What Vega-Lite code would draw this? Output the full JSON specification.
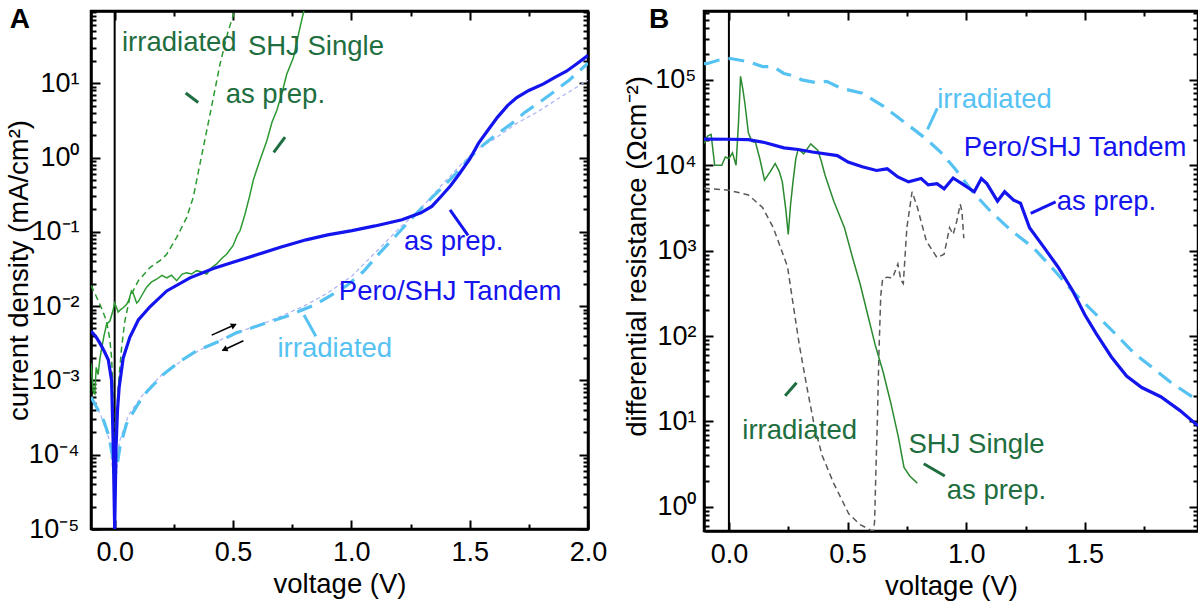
{
  "$schema": "https://vega.github.io/schema/vega-lite/v6.json",
  "background": "white",
  "padding": {"left": 3, "top": 4, "right": 0, "bottom": 0},
  "autosize": {"type": "pad"},
  "spacing": 116,
  "bounds": "flush",
  "config": {
    "view": {"stroke": "black", "strokeWidth": 2.5},
    "font": "Liberation Sans",
    "text": {"font": "Liberation Sans"},
    "axis": {"zindex": 1}
  },
  "datasets": {
    "zero": [{"V": 0, "J": 1e-9}, {"V": 0, "J": 1e9}],
    "a_tp": [
      {"V": -0.1, "J": 0.0046}, {"V": -0.08, "J": 0.0039}, {"V": -0.063, "J": 0.0032}, {"V": -0.045, "J": 0.0025},
      {"V": -0.027, "J": 0.0019}, {"V": -0.013, "J": 0.001}, {"V": -0.006, "J": 0.00013}, {"V": 0, "J": 0.00001},
      {"V": 0.006, "J": 0.00013}, {"V": 0.012, "J": 0.0004}, {"V": 0.019, "J": 0.00081}, {"V": 0.036, "J": 0.002},
      {"V": 0.064, "J": 0.0038}, {"V": 0.1, "J": 0.0065}, {"V": 0.149, "J": 0.0098}, {"V": 0.22, "J": 0.016},
      {"V": 0.318, "J": 0.024}, {"V": 0.417, "J": 0.032}, {"V": 0.5, "J": 0.039}, {"V": 0.6, "J": 0.049},
      {"V": 0.7, "J": 0.062}, {"V": 0.809, "J": 0.078}, {"V": 0.9, "J": 0.091}, {"V": 1.003, "J": 0.104},
      {"V": 1.1, "J": 0.12}, {"V": 1.214, "J": 0.145}, {"V": 1.294, "J": 0.18}, {"V": 1.34, "J": 0.22},
      {"V": 1.375, "J": 0.29}, {"V": 1.42, "J": 0.42}, {"V": 1.456, "J": 0.6}, {"V": 1.5, "J": 0.95},
      {"V": 1.537, "J": 1.55}, {"V": 1.58, "J": 2.4}, {"V": 1.618, "J": 3.5}, {"V": 1.66, "J": 5.0},
      {"V": 1.699, "J": 6.4}, {"V": 1.75, "J": 8.0}, {"V": 1.812, "J": 9.8}, {"V": 1.86, "J": 12},
      {"V": 1.909, "J": 14.5}, {"V": 1.95, "J": 18}, {"V": 2.0, "J": 23.7}
    ],
    "a_ti": [
      {"V": -0.1, "J": 0.0006}, {"V": -0.07, "J": 0.0004}, {"V": -0.045, "J": 0.00028}, {"V": -0.025, "J": 0.00018},
      {"V": -0.01, "J": 0.0001}, {"V": 0, "J": 0.00005}, {"V": 0.01, "J": 0.00007}, {"V": 0.022, "J": 0.000126},
      {"V": 0.05, "J": 0.00026}, {"V": 0.093, "J": 0.00045}, {"V": 0.135, "J": 0.0007}, {"V": 0.205, "J": 0.0012},
      {"V": 0.276, "J": 0.0018}, {"V": 0.346, "J": 0.0025}, {"V": 0.445, "J": 0.0034}, {"V": 0.516, "J": 0.0044},
      {"V": 0.58, "J": 0.0051}, {"V": 0.643, "J": 0.006}, {"V": 0.727, "J": 0.0073}, {"V": 0.84, "J": 0.0102},
      {"V": 0.91, "J": 0.0137}, {"V": 0.98, "J": 0.0188}, {"V": 1.05, "J": 0.029}, {"V": 1.12, "J": 0.052},
      {"V": 1.19, "J": 0.09}, {"V": 1.262, "J": 0.16}, {"V": 1.32, "J": 0.25}, {"V": 1.375, "J": 0.37},
      {"V": 1.44, "J": 0.6}, {"V": 1.505, "J": 1.03}, {"V": 1.56, "J": 1.5}, {"V": 1.618, "J": 2.1},
      {"V": 1.68, "J": 2.9}, {"V": 1.731, "J": 4.0}, {"V": 1.79, "J": 5.4}, {"V": 1.845, "J": 7.2},
      {"V": 1.92, "J": 11}, {"V": 2.0, "J": 18.6}
    ],
    "a_tr": [
      {"V": -0.1, "J": 0.0006}, {"V": -0.06, "J": 0.00035}, {"V": -0.02, "J": 0.00015}, {"V": 0, "J": 0.00003},
      {"V": 0.02, "J": 0.00015}, {"V": 0.06, "J": 0.00035}, {"V": 0.12, "J": 0.00065}, {"V": 0.2, "J": 0.0012},
      {"V": 0.3, "J": 0.002}, {"V": 0.4, "J": 0.003}, {"V": 0.5, "J": 0.0042}, {"V": 0.65, "J": 0.0062},
      {"V": 0.8, "J": 0.01}, {"V": 0.9, "J": 0.015}, {"V": 1.0, "J": 0.025}, {"V": 1.13, "J": 0.065},
      {"V": 1.2, "J": 0.11}, {"V": 1.29, "J": 0.2}, {"V": 1.38, "J": 0.42}, {"V": 1.456, "J": 0.76},
      {"V": 1.53, "J": 1.3}, {"V": 1.6, "J": 1.74}, {"V": 1.7, "J": 2.9}, {"V": 1.78, "J": 4}, {"V": 1.9, "J": 7},
      {"V": 2.0, "J": 11}
    ],
    "a_sp": [
      {"V": -0.1, "J": 0.0017}, {"V": -0.09, "J": 0.0007}, {"V": -0.084, "J": 0.00066}, {"V": -0.078, "J": 0.0015},
      {"V": -0.07, "J": 0.0012}, {"V": -0.062, "J": 0.002}, {"V": -0.055, "J": 0.0027}, {"V": -0.045, "J": 0.004},
      {"V": -0.034, "J": 0.0057}, {"V": -0.02, "J": 0.0063}, {"V": -0.006, "J": 0.009}, {"V": 0.0, "J": 0.011},
      {"V": 0.008, "J": 0.0095}, {"V": 0.015, "J": 0.0083}, {"V": 0.025, "J": 0.009}, {"V": 0.036, "J": 0.0095},
      {"V": 0.05, "J": 0.0105}, {"V": 0.06, "J": 0.012}, {"V": 0.071, "J": 0.016}, {"V": 0.078, "J": 0.015},
      {"V": 0.093, "J": 0.011}, {"V": 0.1, "J": 0.0115}, {"V": 0.115, "J": 0.014}, {"V": 0.135, "J": 0.018},
      {"V": 0.155, "J": 0.021}, {"V": 0.177, "J": 0.023}, {"V": 0.2, "J": 0.026}, {"V": 0.22, "J": 0.024},
      {"V": 0.24, "J": 0.026}, {"V": 0.262, "J": 0.022}, {"V": 0.285, "J": 0.027}, {"V": 0.304, "J": 0.028},
      {"V": 0.325, "J": 0.027}, {"V": 0.346, "J": 0.03}, {"V": 0.365, "J": 0.029}, {"V": 0.389, "J": 0.027},
      {"V": 0.41, "J": 0.033}, {"V": 0.431, "J": 0.037}, {"V": 0.45, "J": 0.043}, {"V": 0.473, "J": 0.05},
      {"V": 0.5, "J": 0.065}, {"V": 0.518, "J": 0.09}, {"V": 0.53, "J": 0.104}, {"V": 0.55, "J": 0.17},
      {"V": 0.57, "J": 0.3}, {"V": 0.586, "J": 0.5}, {"V": 0.61, "J": 0.85}, {"V": 0.643, "J": 1.68},
      {"V": 0.665, "J": 3.0}, {"V": 0.685, "J": 4.3}, {"V": 0.705, "J": 7}, {"V": 0.727, "J": 13.2},
      {"V": 0.755, "J": 22}, {"V": 0.785, "J": 60}, {"V": 0.81, "J": 130}
    ],
    "a_si": [
      {"V": -0.1, "J": 0.019}, {"V": -0.08, "J": 0.014}, {"V": -0.063, "J": 0.0107}, {"V": -0.05, "J": 0.0085},
      {"V": -0.034, "J": 0.0062}, {"V": -0.02, "J": 0.0035}, {"V": -0.013, "J": 0.002}, {"V": -0.006, "J": 0.0006},
      {"V": 0, "J": 0.00005}, {"V": 0.005, "J": 0.00015}, {"V": 0.01, "J": 0.0004}, {"V": 0.015, "J": 0.0008},
      {"V": 0.022, "J": 0.0015}, {"V": 0.029, "J": 0.0027}, {"V": 0.043, "J": 0.0063}, {"V": 0.064, "J": 0.013},
      {"V": 0.1, "J": 0.022}, {"V": 0.149, "J": 0.033}, {"V": 0.2, "J": 0.043}, {"V": 0.22, "J": 0.05},
      {"V": 0.262, "J": 0.084}, {"V": 0.304, "J": 0.155}, {"V": 0.332, "J": 0.29}, {"V": 0.36, "J": 0.81},
      {"V": 0.389, "J": 2.3}, {"V": 0.417, "J": 6.4}, {"V": 0.445, "J": 18}, {"V": 0.48, "J": 51},
      {"V": 0.508, "J": 95}, {"V": 0.52, "J": 130}
    ],
    "a_lbl_green": [
      {"V": 0.031, "J": 27.1, "t": "irradiated"},
      {"V": 0.563, "J": 24.1, "t": "SHJ Single"},
      {"V": 0.469, "J": 5.48, "t": "as prep."}
    ],
    "a_lbl_blue": [
      {"V": 1.2225, "J": 0.0569, "t": "as prep."},
      {"V": 0.947, "J": 0.01219, "t": "Pero/SHJ Tandem"}
    ],
    "a_lbl_lb": [{"V": 0.688, "J": 0.00206, "t": "irradiated"}],
    "a_lead_green": [
      {"V": 0.3, "J": 7.4, "V2": 0.353, "J2": 5.5},
      {"V": 0.72, "J": 1.88, "V2": 0.672, "J2": 1.17}
    ],
    "a_lead_blue": [{"V": 1.417, "J": 0.198, "V2": 1.493, "J2": 0.0893}],
    "a_lead_lb": [{"V": 0.8, "J": 0.0076, "V2": 0.85, "J2": 0.00394}],
    "a_arrows": [
      {"V": 0.41, "J": 0.00407, "V2": 0.512, "J2": 0.0057},
      {"V": 0.544, "J": 0.00342, "V2": 0.456, "J2": 0.00253}
    ],
    "a_head_r": [{"V": 0.504, "J": 0.00552}],
    "a_head_l": [{"V": 0.4636, "J": 0.00261}],
    "a_letter": [{"V": -0.443, "J": 56.2, "t": "A"}],
    "b_tp": [
      {"V": -0.105, "J": 20300}, {"V": 0, "J": 20200}, {"V": 0.082, "J": 20000}, {"V": 0.15, "J": 18500},
      {"V": 0.232, "J": 16000}, {"V": 0.292, "J": 15300}, {"V": 0.352, "J": 14300}, {"V": 0.457, "J": 13000},
      {"V": 0.502, "J": 10900}, {"V": 0.562, "J": 9600}, {"V": 0.622, "J": 8700}, {"V": 0.667, "J": 9100},
      {"V": 0.712, "J": 7300}, {"V": 0.757, "J": 6400}, {"V": 0.81, "J": 7000}, {"V": 0.84, "J": 5900},
      {"V": 0.877, "J": 6100}, {"V": 0.907, "J": 5300}, {"V": 0.945, "J": 7100}, {"V": 0.99, "J": 5900},
      {"V": 1.034, "J": 4900}, {"V": 1.064, "J": 7000}, {"V": 1.087, "J": 6100}, {"V": 1.132, "J": 3800},
      {"V": 1.162, "J": 4900}, {"V": 1.2, "J": 3900}, {"V": 1.229, "J": 3600}, {"V": 1.267, "J": 1860},
      {"V": 1.327, "J": 1100}, {"V": 1.387, "J": 645}, {"V": 1.447, "J": 347}, {"V": 1.5, "J": 178},
      {"V": 1.548, "J": 107}, {"V": 1.612, "J": 57}, {"V": 1.676, "J": 34}, {"V": 1.74, "J": 25},
      {"V": 1.82, "J": 19.5}, {"V": 1.9, "J": 13.5}, {"V": 1.977, "J": 8.9}
    ],
    "b_ti": [
      {"V": -0.105, "J": 155000}, {"V": -0.09, "J": 156000}, {"V": -0.045, "J": 170000}, {"V": 0.0075, "J": 178000},
      {"V": 0.082, "J": 163000}, {"V": 0.142, "J": 143000}, {"V": 0.187, "J": 143000}, {"V": 0.232, "J": 119000},
      {"V": 0.277, "J": 111000}, {"V": 0.307, "J": 100000}, {"V": 0.367, "J": 93000}, {"V": 0.412, "J": 96000},
      {"V": 0.472, "J": 80000}, {"V": 0.562, "J": 70000}, {"V": 0.652, "J": 49000}, {"V": 0.742, "J": 31600},
      {"V": 0.832, "J": 20300}, {"V": 0.892, "J": 14300}, {"V": 0.952, "J": 9200}, {"V": 1.027, "J": 4900},
      {"V": 1.102, "J": 2900}, {"V": 1.192, "J": 1700}, {"V": 1.282, "J": 1090}, {"V": 1.372, "J": 587},
      {"V": 1.432, "J": 378}, {"V": 1.468, "J": 295}, {"V": 1.548, "J": 178}, {"V": 1.628, "J": 107},
      {"V": 1.708, "J": 63}, {"V": 1.788, "J": 42}, {"V": 1.868, "J": 28}, {"V": 1.977, "J": 17.5}
    ],
    "b_sp": [
      {"V": -0.105, "J": 18000}, {"V": -0.09, "J": 22000}, {"V": -0.075, "J": 23000}, {"V": -0.06, "J": 10000},
      {"V": -0.03, "J": 10000}, {"V": -0.015, "J": 12500}, {"V": 0, "J": 12000}, {"V": 0.015, "J": 14000},
      {"V": 0.03, "J": 10000}, {"V": 0.04, "J": 30000}, {"V": 0.049, "J": 110000}, {"V": 0.058, "J": 80000},
      {"V": 0.067, "J": 54000}, {"V": 0.082, "J": 24000}, {"V": 0.097, "J": 19000}, {"V": 0.112, "J": 18600},
      {"V": 0.13, "J": 12000}, {"V": 0.15, "J": 6700}, {"V": 0.175, "J": 8500}, {"V": 0.195, "J": 10500},
      {"V": 0.212, "J": 8500}, {"V": 0.225, "J": 6400}, {"V": 0.24, "J": 3000}, {"V": 0.25, "J": 1550},
      {"V": 0.26, "J": 3500}, {"V": 0.27, "J": 6400}, {"V": 0.282, "J": 12000}, {"V": 0.292, "J": 15500},
      {"V": 0.315, "J": 13600}, {"V": 0.345, "J": 17800}, {"V": 0.375, "J": 14900}, {"V": 0.39, "J": 11000},
      {"V": 0.405, "J": 7700}, {"V": 0.442, "J": 3800}, {"V": 0.487, "J": 1860}, {"V": 0.521, "J": 832},
      {"V": 0.553, "J": 407}, {"V": 0.585, "J": 178}, {"V": 0.617, "J": 78}, {"V": 0.65, "J": 38},
      {"V": 0.682, "J": 16.6}, {"V": 0.714, "J": 6.6}, {"V": 0.738, "J": 2.9}, {"V": 0.762, "J": 2.3},
      {"V": 0.794, "J": 1.9}
    ],
    "b_si": [
      {"V": -0.105, "J": 5400}, {"V": 0, "J": 5100}, {"V": 0.082, "J": 4500}, {"V": 0.142, "J": 3200},
      {"V": 0.187, "J": 1860}, {"V": 0.217, "J": 1100}, {"V": 0.247, "J": 650}, {"V": 0.265, "J": 300},
      {"V": 0.297, "J": 78}, {"V": 0.329, "J": 25}, {"V": 0.36, "J": 8.9}, {"V": 0.393, "J": 4},
      {"V": 0.441, "J": 1.9}, {"V": 0.505, "J": 0.83}, {"V": 0.553, "J": 0.62}, {"V": 0.6, "J": 0.53},
      {"V": 0.61, "J": 0.53}, {"V": 0.614, "J": 0.68}, {"V": 0.62, "J": 3}, {"V": 0.626, "J": 11},
      {"V": 0.632, "J": 60}, {"V": 0.64, "J": 300}, {"V": 0.648, "J": 470}, {"V": 0.667, "J": 490},
      {"V": 0.69, "J": 480}, {"V": 0.712, "J": 700}, {"V": 0.725, "J": 450}, {"V": 0.735, "J": 412},
      {"V": 0.75, "J": 1860}, {"V": 0.772, "J": 4900}, {"V": 0.795, "J": 3160}, {"V": 0.832, "J": 1300},
      {"V": 0.877, "J": 830}, {"V": 0.907, "J": 910}, {"V": 0.93, "J": 1860}, {"V": 0.945, "J": 1550},
      {"V": 0.96, "J": 2200}, {"V": 0.975, "J": 3500}, {"V": 0.982, "J": 2900}, {"V": 0.99, "J": 1400}
    ],
    "b_lbl_lb": [{"V": 0.878, "J": 46500, "t": "irradiated"}],
    "b_lbl_blue": [
      {"V": 0.99, "J": 12800, "t": "Pero/SHJ Tandem"},
      {"V": 1.382, "J": 3030, "t": "as prep."}
    ],
    "b_lbl_green": [
      {"V": 0.0565, "J": 6.25, "t": "irradiated"},
      {"V": 0.757, "J": 4.28, "t": "SHJ Single"},
      {"V": 0.918, "J": 1.24, "t": "as prep."}
    ],
    "b_lead_lb": [{"V": 0.878, "J": 46500, "V2": 0.837, "J2": 26300}],
    "b_lead_blue": [{"V": 1.377, "J": 3726, "V2": 1.272, "J2": 2735}],
    "b_lead_green": [
      {"V": 0.237, "J": 20, "V2": 0.285, "J2": 28.5},
      {"V": 0.821, "J": 3.2, "V2": 0.91, "J2": 2.3}
    ],
    "b_letter": [{"V": -0.337, "J": 400000, "t": "B"}]
  },
  "hconcat": [
    {
      "width": 497,
      "height": 518,
      "view": {"stroke": "black", "strokeWidth": 2.5},
      "encoding": {
        "x": {"field": "V", "type": "quantitative", "scale": {"domain": [-0.1, 2.0], "nice": false, "zero": false}, "axis": null},
        "y": {"field": "J", "type": "quantitative", "scale": {"type": "log", "domain": [0.00001, 93.8], "nice": false}, "axis": null}
      },
      "resolve": {"axis": {"x": "independent", "y": "independent"}},
      "layer": [
        {
          "data": {"name": "zero"},
          "mark": {"type": "line", "opacity": 0, "clip": true},
          "encoding": {
            "x": {"field": "V", "type": "quantitative", "scale": {"domain": [-0.1, 2.0], "nice": false, "zero": false},
              "axis": {"orient": "top", "values": [0, 0.5, 1, 1.5, 2], "labels": false, "title": null, "grid": false, "domain": false,
                "ticks": true, "tickColor": "black", "tickWidth": 2, "tickSize": 9, "offset": -9}},
            "y": {"field": "J", "type": "quantitative", "scale": {"type": "log", "domain": [0.00001, 93.8], "nice": false},
              "axis": {"orient": "right", "values": [0.00001, 0.0001, 0.001, 0.01, 0.1, 1, 10], "labels": false, "title": null, "grid": false, "domain": false,
                "ticks": true, "tickColor": "black", "tickWidth": 2, "tickSize": 9, "offset": -9}}
          }
        },
        {
          "data": {"name": "zero"},
          "mark": {"type": "line", "opacity": 0, "clip": true},
          "encoding": {
            "x": {"field": "V", "type": "quantitative", "scale": {"domain": [-0.1, 2.0], "nice": false, "zero": false},
              "axis": {"orient": "top", "values": [0.25, 0.75, 1.25, 1.75], "labels": false, "title": null, "grid": false, "domain": false,
                "ticks": true, "tickColor": "black", "tickWidth": 2, "tickSize": 5, "offset": -5}},
            "y": {"field": "J", "type": "quantitative", "scale": {"type": "log", "domain": [0.00001, 93.8], "nice": false},
              "axis": {"orient": "right", "values": [0.00002,0.00003,0.00004,0.00005,0.00006,0.00007,0.00008,0.00009,0.0002,0.0003,0.0004,0.0005,0.0006,0.0007,0.0008,0.0009,0.002,0.003,0.004,0.005,0.006,0.007,0.008,0.009,0.02,0.03,0.04,0.05,0.06,0.07,0.08,0.09,0.2,0.3,0.4,0.5,0.6,0.7,0.8,0.9,2,3,4,5,6,7,8,9,20,30,40,50,60,70,80,90],
                "labels": false, "title": null, "grid": false, "domain": false,
                "ticks": true, "tickColor": "black", "tickWidth": 2, "tickSize": 5, "offset": -5}}
          }
        },
        {
          "data": {"name": "zero"},
          "mark": {"type": "line", "opacity": 0, "clip": true},
          "encoding": {
            "x": {"field": "V", "type": "quantitative", "scale": {"domain": [-0.1, 2.0], "nice": false, "zero": false},
              "axis": {"orient": "bottom", "values": [0, 0.5, 1, 1.5, 2], "labels": false, "title": null, "grid": false, "domain": false,
                "ticks": true, "tickColor": "black", "tickWidth": 2, "tickSize": 9, "offset": -9}},
            "y": {"field": "J", "type": "quantitative", "scale": {"type": "log", "domain": [0.00001, 93.8], "nice": false},
              "axis": {"orient": "left", "values": [0.00001, 0.0001, 0.001, 0.01, 0.1, 1, 10], "labels": false, "title": null, "grid": false, "domain": false,
                "ticks": true, "tickColor": "black", "tickWidth": 2, "tickSize": 9, "offset": -9}}
          }
        },
        {
          "data": {"name": "zero"},
          "mark": {"type": "line", "opacity": 0, "clip": true},
          "encoding": {
            "x": {"field": "V", "type": "quantitative", "scale": {"domain": [-0.1, 2.0], "nice": false, "zero": false},
              "axis": {"orient": "bottom", "values": [0.25, 0.75, 1.25, 1.75], "labels": false, "title": null, "grid": false, "domain": false,
                "ticks": true, "tickColor": "black", "tickWidth": 2, "tickSize": 5, "offset": -5}},
            "y": {"field": "J", "type": "quantitative", "scale": {"type": "log", "domain": [0.00001, 93.8], "nice": false},
              "axis": {"orient": "left", "values": [0.00002,0.00003,0.00004,0.00005,0.00006,0.00007,0.00008,0.00009,0.0002,0.0003,0.0004,0.0005,0.0006,0.0007,0.0008,0.0009,0.002,0.003,0.004,0.005,0.006,0.007,0.008,0.009,0.02,0.03,0.04,0.05,0.06,0.07,0.08,0.09,0.2,0.3,0.4,0.5,0.6,0.7,0.8,0.9,2,3,4,5,6,7,8,9,20,30,40,50,60,70,80,90],
                "labels": false, "title": null, "grid": false, "domain": false,
                "ticks": true, "tickColor": "black", "tickWidth": 2, "tickSize": 5, "offset": -5}}
          }
        },
        {
          "data": {"name": "zero"},
          "mark": {"type": "line", "color": "black", "strokeWidth": 2, "clip": true},
          "encoding": {
            "x": {"field": "V", "type": "quantitative", "scale": {"domain": [-0.1, 2.0], "nice": false, "zero": false},
              "axis": {"orient": "top", "values": [0], "labels": false, "title": null, "grid": false, "ticks": false,
                "domain": true, "domainColor": "black", "domainWidth": 2.5}},
            "y": {"field": "J", "type": "quantitative", "scale": {"type": "log", "domain": [0.00001, 93.8], "nice": false},
              "axis": {"orient": "right", "values": [1], "labels": false, "title": null, "grid": false, "ticks": false,
                "domain": true, "domainColor": "black", "domainWidth": 2.5}}
          }
        },
        {
          "data": {"name": "a_tr"},
          "mark": {"type": "line", "color": "#aab2f5", "strokeWidth": 1.2, "strokeDash": [4, 3], "clip": true}
        },
        {
          "data": {"name": "a_ti"},
          "mark": {"type": "line", "color": "#56c2f2", "strokeWidth": 3.2, "strokeDash": [16, 9], "clip": true}
        },
        {
          "data": {"name": "a_si"},
          "mark": {"type": "line", "color": "#2b9a30", "strokeWidth": 1.5, "strokeDash": [6, 4], "clip": true}
        },
        {
          "data": {"name": "a_sp"},
          "mark": {"type": "line", "color": "#2b9a30", "strokeWidth": 1.5, "clip": true}
        },
        {
          "data": {"name": "a_tp"},
          "mark": {"type": "line", "color": "#1414ee", "strokeWidth": 3.2, "clip": true},
          "encoding": {
            "x": {"field": "V", "type": "quantitative", "scale": {"domain": [-0.1, 2.0], "nice": false, "zero": false},
              "axis": {"orient": "bottom", "values": [0, 0.5, 1, 1.5, 2], "format": ".1f",
                "ticks": false, "domain": true, "domainColor": "black", "domainWidth": 2.5, "grid": false,
                "labelFont": "Liberation Sans", "labelFontSize": 27, "labelColor": "black", "labelPadding": 10,
                "labelOverlap": false, "labelFlush": false, "labelBound": false,
                "title": "voltage (V)", "titleFont": "Liberation Sans", "titleFontSize": 27.5, "titleFontWeight": "normal", "titleColor": "black", "titlePadding": 5}},
            "y": {"field": "J", "type": "quantitative", "scale": {"type": "log", "domain": [0.00001, 93.8], "nice": false},
              "axis": {"orient": "left", "values": [0.00001, 0.0001, 0.001, 0.01, 0.1, 1, 10],
                "labelExpr": "'10' + (datum.value < 0.5 ? '⁻' : '') + ['⁰','¹','²','³','⁴','⁵','⁶','⁷','⁸','⁹'][abs(round(log(datum.value)/LN10))]",
                "ticks": false, "domain": true, "domainColor": "black", "domainWidth": 2.5, "grid": false,
                "labelFont": "Liberation Sans", "labelFontSize": 27, "labelColor": "black", "labelPadding": 12,
                "labelOverlap": false, "labelFlush": false, "labelBound": false,
                "title": "current density (mA/cm²)", "titleFont": "Liberation Sans", "titleFontSize": 27.5, "titleFontWeight": "normal", "titleColor": "black", "titleX": -58}}
          }
        },
        {
          "data": {"name": "a_lead_green"},
          "mark": {"type": "rule", "color": "#1e6e40", "strokeWidth": 3},
          "encoding": {"x2": {"field": "V2"}, "y2": {"field": "J2"}}
        },
        {
          "data": {"name": "a_lead_blue"},
          "mark": {"type": "rule", "color": "#1414ee", "strokeWidth": 3},
          "encoding": {"x2": {"field": "V2"}, "y2": {"field": "J2"}}
        },
        {
          "data": {"name": "a_lead_lb"},
          "mark": {"type": "rule", "color": "#56c2f2", "strokeWidth": 3},
          "encoding": {"x2": {"field": "V2"}, "y2": {"field": "J2"}}
        },
        {
          "data": {"name": "a_arrows"},
          "mark": {"type": "rule", "color": "black", "strokeWidth": 1.5},
          "encoding": {"x2": {"field": "V2"}, "y2": {"field": "J2"}}
        },
        {
          "data": {"name": "a_head_r"},
          "mark": {"type": "point", "shape": "triangle-right", "filled": true, "color": "black", "size": 45, "angle": -24, "opacity": 1}
        },
        {
          "data": {"name": "a_head_l"},
          "mark": {"type": "point", "shape": "triangle-left", "filled": true, "color": "black", "size": 45, "angle": -25, "opacity": 1}
        },
        {
          "data": {"name": "a_lbl_green"},
          "mark": {"type": "text", "align": "left", "baseline": "alphabetic", "fontSize": 27.5, "font": "Liberation Sans", "color": "#1e6e40"},
          "encoding": {"text": {"field": "t"}}
        },
        {
          "data": {"name": "a_lbl_blue"},
          "mark": {"type": "text", "align": "left", "baseline": "alphabetic", "fontSize": 27.5, "font": "Liberation Sans", "color": "#1414ee"},
          "encoding": {"text": {"field": "t"}}
        },
        {
          "data": {"name": "a_lbl_lb"},
          "mark": {"type": "text", "align": "left", "baseline": "alphabetic", "fontSize": 27.5, "font": "Liberation Sans", "color": "#56c2f2"},
          "encoding": {"text": {"field": "t"}}
        },
        {
          "data": {"name": "a_letter"},
          "mark": {"type": "text", "align": "left", "baseline": "alphabetic", "fontSize": 28, "fontWeight": "bold", "font": "Liberation Sans", "color": "black"},
          "encoding": {"text": {"field": "t"}}
        }
      ]
    },
    {
      "width": 494,
      "height": 520,
      "view": {"stroke": "black", "strokeWidth": 2.5},
      "encoding": {
        "x": {"field": "V", "type": "quantitative", "scale": {"domain": [-0.105, 1.977], "nice": false, "zero": false}, "axis": null},
        "y": {"field": "J", "type": "quantitative", "scale": {"type": "log", "domain": [0.522, 641000], "nice": false}, "axis": null}
      },
      "resolve": {"axis": {"x": "independent", "y": "independent"}},
      "layer": [
        {
          "data": {"name": "zero"},
          "mark": {"type": "line", "opacity": 0, "clip": true},
          "encoding": {
            "x": {"field": "V", "type": "quantitative", "scale": {"domain": [-0.105, 1.977], "nice": false, "zero": false},
              "axis": {"orient": "top", "values": [0, 0.5, 1, 1.5], "labels": false, "title": null, "grid": false, "domain": false,
                "ticks": true, "tickColor": "black", "tickWidth": 2, "tickSize": 9, "offset": -9}},
            "y": {"field": "J", "type": "quantitative", "scale": {"type": "log", "domain": [0.522, 641000], "nice": false},
              "axis": {"orient": "right", "values": [1, 10, 100, 1000, 10000, 100000], "labels": false, "title": null, "grid": false, "domain": false,
                "ticks": true, "tickColor": "black", "tickWidth": 2, "tickSize": 9, "offset": -9}}
          }
        },
        {
          "data": {"name": "zero"},
          "mark": {"type": "line", "opacity": 0, "clip": true},
          "encoding": {
            "x": {"field": "V", "type": "quantitative", "scale": {"domain": [-0.105, 1.977], "nice": false, "zero": false},
              "axis": {"orient": "top", "values": [0.25, 0.75, 1.25, 1.75], "labels": false, "title": null, "grid": false, "domain": false,
                "ticks": true, "tickColor": "black", "tickWidth": 2, "tickSize": 5, "offset": -5}},
            "y": {"field": "J", "type": "quantitative", "scale": {"type": "log", "domain": [0.522, 641000], "nice": false},
              "axis": {"orient": "right", "values": [0.6,0.7,0.8,0.9,2,3,4,5,6,7,8,9,20,30,40,50,60,70,80,90,200,300,400,500,600,700,800,900,2000,3000,4000,5000,6000,7000,8000,9000,20000,30000,40000,50000,60000,70000,80000,90000,200000,300000,400000,500000,600000],
                "labels": false, "title": null, "grid": false, "domain": false,
                "ticks": true, "tickColor": "black", "tickWidth": 2, "tickSize": 5, "offset": -5}}
          }
        },
        {
          "data": {"name": "zero"},
          "mark": {"type": "line", "opacity": 0, "clip": true},
          "encoding": {
            "x": {"field": "V", "type": "quantitative", "scale": {"domain": [-0.105, 1.977], "nice": false, "zero": false},
              "axis": {"orient": "bottom", "values": [0, 0.5, 1, 1.5], "labels": false, "title": null, "grid": false, "domain": false,
                "ticks": true, "tickColor": "black", "tickWidth": 2, "tickSize": 9, "offset": -9}},
            "y": {"field": "J", "type": "quantitative", "scale": {"type": "log", "domain": [0.522, 641000], "nice": false},
              "axis": {"orient": "left", "values": [1, 10, 100, 1000, 10000, 100000], "labels": false, "title": null, "grid": false, "domain": false,
                "ticks": true, "tickColor": "black", "tickWidth": 2, "tickSize": 9, "offset": -9}}
          }
        },
        {
          "data": {"name": "zero"},
          "mark": {"type": "line", "opacity": 0, "clip": true},
          "encoding": {
            "x": {"field": "V", "type": "quantitative", "scale": {"domain": [-0.105, 1.977], "nice": false, "zero": false},
              "axis": {"orient": "bottom", "values": [0.25, 0.75, 1.25, 1.75], "labels": false, "title": null, "grid": false, "domain": false,
                "ticks": true, "tickColor": "black", "tickWidth": 2, "tickSize": 5, "offset": -5}},
            "y": {"field": "J", "type": "quantitative", "scale": {"type": "log", "domain": [0.522, 641000], "nice": false},
              "axis": {"orient": "left", "values": [0.6,0.7,0.8,0.9,2,3,4,5,6,7,8,9,20,30,40,50,60,70,80,90,200,300,400,500,600,700,800,900,2000,3000,4000,5000,6000,7000,8000,9000,20000,30000,40000,50000,60000,70000,80000,90000,200000,300000,400000,500000,600000],
                "labels": false, "title": null, "grid": false, "domain": false,
                "ticks": true, "tickColor": "black", "tickWidth": 2, "tickSize": 5, "offset": -5}}
          }
        },
        {
          "data": {"name": "zero"},
          "mark": {"type": "line", "color": "black", "strokeWidth": 2, "clip": true},
          "encoding": {
            "x": {"field": "V", "type": "quantitative", "scale": {"domain": [-0.105, 1.977], "nice": false, "zero": false},
              "axis": {"orient": "top", "values": [0], "labels": false, "title": null, "grid": false, "ticks": false,
                "domain": true, "domainColor": "black", "domainWidth": 2.5}},
            "y": {"field": "J", "type": "quantitative", "scale": {"type": "log", "domain": [0.522, 641000], "nice": false},
              "axis": {"orient": "right", "values": [1], "labels": false, "title": null, "grid": false, "ticks": false,
                "domain": true, "domainColor": "black", "domainWidth": 2.5}}
          }
        },
        {
          "data": {"name": "b_si"},
          "mark": {"type": "line", "color": "#5a5a5a", "strokeWidth": 1.5, "strokeDash": [6, 4], "clip": true}
        },
        {
          "data": {"name": "b_ti"},
          "mark": {"type": "line", "color": "#56c2f2", "strokeWidth": 3.2, "strokeDash": [16, 9], "clip": true}
        },
        {
          "data": {"name": "b_sp"},
          "mark": {"type": "line", "color": "#2b8a30", "strokeWidth": 1.5, "clip": true}
        },
        {
          "data": {"name": "b_tp"},
          "mark": {"type": "line", "color": "#1414ee", "strokeWidth": 3.2, "clip": true},
          "encoding": {
            "x": {"field": "V", "type": "quantitative", "scale": {"domain": [-0.105, 1.977], "nice": false, "zero": false},
              "axis": {"orient": "bottom", "values": [0, 0.5, 1, 1.5], "format": ".1f",
                "ticks": false, "domain": true, "domainColor": "black", "domainWidth": 2.5, "grid": false,
                "labelFont": "Liberation Sans", "labelFontSize": 27, "labelColor": "black", "labelPadding": 10,
                "labelOverlap": false, "labelFlush": false, "labelBound": false,
                "title": "voltage (V)", "titleFont": "Liberation Sans", "titleFontSize": 27.5, "titleFontWeight": "normal", "titleColor": "black", "titlePadding": 5}},
            "y": {"field": "J", "type": "quantitative", "scale": {"type": "log", "domain": [0.522, 641000], "nice": false},
              "axis": {"orient": "left", "values": [1, 10, 100, 1000, 10000, 100000],
                "labelExpr": "'10' + (datum.value < 0.5 ? '⁻' : '') + ['⁰','¹','²','³','⁴','⁵','⁶','⁷','⁸','⁹'][abs(round(log(datum.value)/LN10))]",
                "ticks": false, "domain": true, "domainColor": "black", "domainWidth": 2.5, "grid": false,
                "labelFont": "Liberation Sans", "labelFontSize": 27, "labelColor": "black", "labelPadding": 8,
                "labelOverlap": false, "labelFlush": false, "labelBound": false,
                "title": "differential resistance (Ωcm⁻²)", "titleFont": "Liberation Sans", "titleFontSize": 27.5, "titleFontWeight": "normal", "titleColor": "black", "titleX": -53, "titleY": 245}}
          }
        },
        {
          "data": {"name": "b_lead_green"},
          "mark": {"type": "rule", "color": "#1e6e40", "strokeWidth": 3},
          "encoding": {"x2": {"field": "V2"}, "y2": {"field": "J2"}}
        },
        {
          "data": {"name": "b_lead_blue"},
          "mark": {"type": "rule", "color": "#1414ee", "strokeWidth": 3},
          "encoding": {"x2": {"field": "V2"}, "y2": {"field": "J2"}}
        },
        {
          "data": {"name": "b_lead_lb"},
          "mark": {"type": "rule", "color": "#56c2f2", "strokeWidth": 3},
          "encoding": {"x2": {"field": "V2"}, "y2": {"field": "J2"}}
        },
        {
          "data": {"name": "b_lbl_green"},
          "mark": {"type": "text", "align": "left", "baseline": "alphabetic", "fontSize": 27.5, "font": "Liberation Sans", "color": "#1e6e40"},
          "encoding": {"text": {"field": "t"}}
        },
        {
          "data": {"name": "b_lbl_blue"},
          "mark": {"type": "text", "align": "left", "baseline": "alphabetic", "fontSize": 27.5, "font": "Liberation Sans", "color": "#1414ee"},
          "encoding": {"text": {"field": "t"}}
        },
        {
          "data": {"name": "b_lbl_lb"},
          "mark": {"type": "text", "align": "left", "baseline": "alphabetic", "fontSize": 27.5, "font": "Liberation Sans", "color": "#56c2f2"},
          "encoding": {"text": {"field": "t"}}
        },
        {
          "data": {"name": "b_letter"},
          "mark": {"type": "text", "align": "left", "baseline": "alphabetic", "fontSize": 28, "fontWeight": "bold", "font": "Liberation Sans", "color": "black"},
          "encoding": {"text": {"field": "t"}}
        }
      ]
    }
  ]
}
